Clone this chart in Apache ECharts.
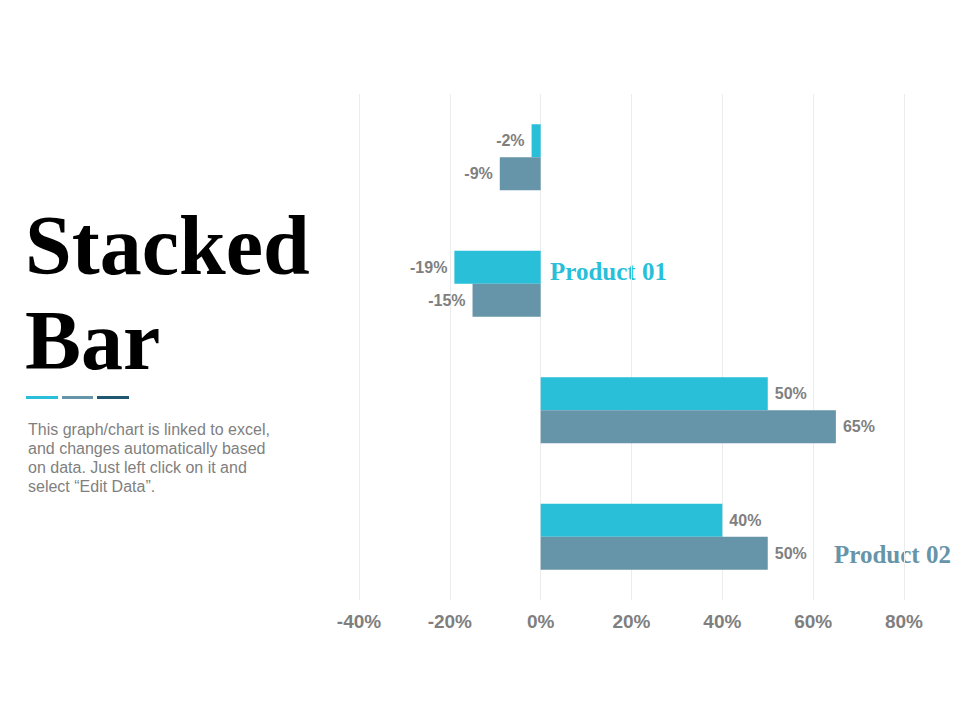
<!DOCTYPE html>
<html>
<head>
<meta charset="utf-8">
<script src="https://cdn.jsdelivr.net/npm/echarts@6/dist/echarts.min.js"></script>
<style>
  html, body { margin: 0; padding: 0; background: #fff; }
  #chart { width: 960px; height: 720px; }
</style>
</head>
<body>
<div id="chart"></div>
<script>
var categories = ['Category 1', 'Category 2', 'Category 3', 'Category 4'];
var series1 = [-2, -19, 50, 40];
var series2 = [-9, -15, 65, 50];
var xTicks = [-40, -20, 0, 20, 40, 60, 80];

(function() {
  var cyan = '#29bfd9';
  var slate = '#6694a9';
  var navy = '#1f5670';
  var gray = '#7f7f7f';

  var chart = echarts.init(document.getElementById('chart'), null, { renderer: 'svg' });

  function withLabels(values) {
    return values.map(function(v) {
      return {
        value: v,
        label: { position: v < 0 ? 'left' : 'right' }
      };
    });
  }

  var labelStyle = {
    show: true,
    color: gray,
    fontSize: 16,
    fontWeight: 'bold',
    fontFamily: 'Liberation Sans Narrow, Arial, sans-serif',
    distance: 7,
    formatter: function(p) { return p.value + '%'; }
  };

  chart.setOption({
    animation: false,
    grid: { left: 359, right: 56, top: 94, bottom: 120 },
    xAxis: {
      type: 'value',
      min: xTicks[0],
      max: xTicks[xTicks.length - 1],
      interval: 20,
      axisLine: { show: false },
      axisTick: { show: false },
      splitLine: { lineStyle: { color: '#ececec', width: 1 } },
      axisLabel: {
        color: gray,
        fontSize: 19,
        fontWeight: 'bold',
        fontFamily: 'Liberation Sans Narrow, Arial, sans-serif',
        margin: 12,
        formatter: function(v) { return v + '%'; }
      }
    },
    yAxis: {
      type: 'category',
      data: categories,
      inverse: true,
      axisLine: { show: false },
      axisTick: { show: false },
      axisLabel: { show: false },
      splitLine: { show: false }
    },
    series: [
      {
        name: 'Series 1',
        type: 'bar',
        data: withLabels(series1),
        barWidth: 33,
        barGap: '0%',
        itemStyle: { color: cyan },
        label: labelStyle
      },
      {
        name: 'Series 2',
        type: 'bar',
        data: withLabels(series2),
        barWidth: 33,
        barGap: '0%',
        itemStyle: { color: slate },
        label: labelStyle
      }
    ],
    graphic: [
      {
        type: 'text', x: 25, y: 245,
        style: {
          text: 'Stacked', fill: '#000', verticalAlign: 'middle',
          font: 'bold 84px "Liberation Serif", serif'
        }
      },
      {
        type: 'text', x: 25, y: 340,
        style: {
          text: 'Bar', fill: '#000', verticalAlign: 'middle',
          font: 'bold 84px "Liberation Serif", serif'
        }
      },
      { type: 'rect', shape: { x: 26, y: 396, width: 32, height: 3 }, style: { fill: cyan } },
      { type: 'rect', shape: { x: 62, y: 396, width: 31, height: 3 }, style: { fill: slate } },
      { type: 'rect', shape: { x: 97, y: 396, width: 32, height: 3 }, style: { fill: navy } },
      {
        type: 'text', left: 28, top: 420,
        style: {
          text: 'This graph/chart is linked to excel,\nand changes automatically based\non data. Just left click on it and\nselect \u201cEdit Data\u201d.',
          fill: gray, font: '16px "Liberation Sans", Arial, sans-serif', lineHeight: 19
        }
      },
      {
        type: 'text', x: 550, y: 271,
        style: { text: 'Product 01', fill: cyan, verticalAlign: 'middle', font: 'bold 25px "Liberation Serif", serif' }
      },
      {
        type: 'text', x: 834, y: 554,
        style: { text: 'Product 02', fill: slate, verticalAlign: 'middle', font: 'bold 25px "Liberation Serif", serif' }
      }
    ]
  });
})();
</script>
</body>
</html>
